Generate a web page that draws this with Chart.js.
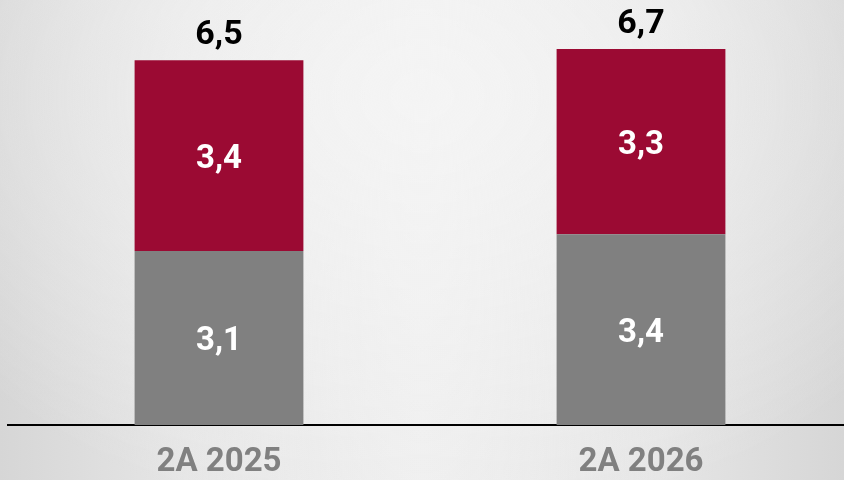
<!DOCTYPE html>
<html>
<head>
<meta charset="utf-8">
<script src="https://cdn.jsdelivr.net/npm/chart.js@4"></script>
<style>
  html, body { margin: 0; padding: 0; overflow: hidden; }
  body {
    width: 844px; height: 480px;
    background:
      radial-gradient(ellipse 70% 90% at 50% 20%, rgba(245,245,245,0.9) 0%, rgba(245,245,245,0) 100%),
      linear-gradient(90deg, #d6d6d6 0%, #e6e6e6 22%, #efefef 50%, #e6e6e6 78%, #d6d6d6 100%);
  }
  #wrap { position: absolute; left: 0; top: 0; width: 852px; height: 480px; }
</style>
</head>
<body>
<div id="wrap"><canvas id="c"></canvas></div>
<script>
// ── data ──
const categories = ["2A 2025", "2A 2026"];
const bottomVals = [3.1, 3.4];
const topVals = [3.4, 3.3];
const totals = [6.5, 6.7];

const fmt = v => v.toFixed(1).replace(".", ",");
const FONT = "Roboto, 'Open Sans', sans-serif";

// value labels inside segments + totals above
const labelPlugin = {
  id: "labels",
  afterDatasetsDraw(chart) {
    const ctx = chart.ctx;
    ctx.save();
    ctx.textAlign = "center";
    ctx.textBaseline = "alphabetic";
    ctx.font = "bold 33px " + FONT;
    chart.data.datasets.forEach((ds, i) => {
      chart.getDatasetMeta(i).data.forEach((bar, j) => {
        ctx.fillStyle = "#ffffff";
        ctx.fillText(fmt(ds.data[j]), bar.x, (bar.y + bar.base) / 2 + 12);
      });
    });
    ctx.font = "bold 34px " + FONT;
    chart.getDatasetMeta(1).data.forEach((bar, j) => {
      ctx.fillStyle = "#000000";
      ctx.fillText(fmt(totals[j]), bar.x, bar.y - 16);
    });
    ctx.restore();
  }
};

new Chart(document.getElementById("c"), {
  type: "bar",
  data: {
    labels: categories,
    datasets: [
      { label: "bottom", data: bottomVals, backgroundColor: "#808080", barPercentage: 0.8, categoryPercentage: 0.5 },
      { label: "top", data: topVals, backgroundColor: "#9b0a33", barPercentage: 0.8, categoryPercentage: 0.5 }
    ]
  },
  options: {
    responsive: true,
    maintainAspectRatio: false,
    animation: false,
    layout: { padding: { left: 8, right: 0, top: 4, bottom: 0 } },
    plugins: { legend: { display: false }, tooltip: { enabled: false } },
    scales: {
      x: {
        stacked: true,
        grid: { display: false },
        border: { display: true, color: "#000000", width: 2 },
        ticks: { color: "#808080", font: { family: FONT, size: 33, weight: "bold" }, padding: 10 },
        afterFit: s => { s.height = 55; }
      },
      y: { stacked: true, display: false, min: 0, max: 7.5 }
    }
  },
  plugins: [labelPlugin]
});
</script>
</body>
</html>
